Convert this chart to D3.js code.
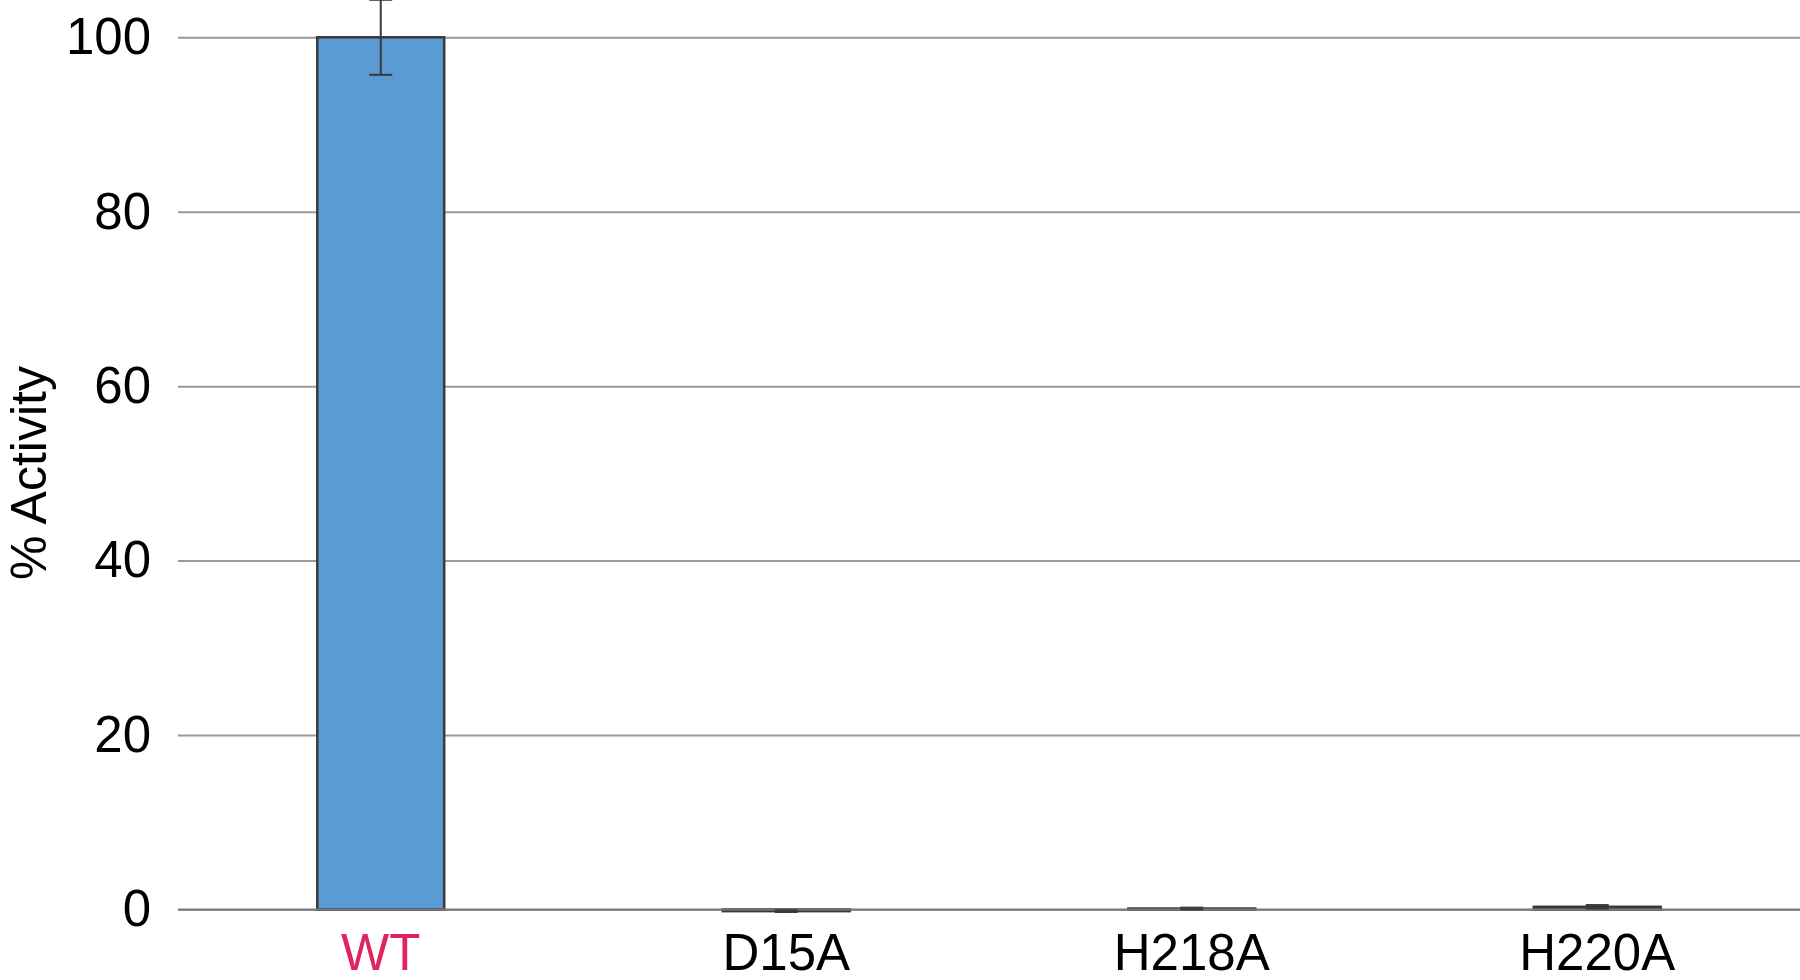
<!DOCTYPE html>
<html>
<head>
<meta charset="utf-8">
<script src="https://cdn.jsdelivr.net/npm/d3@7"></script>
<style>
  html, body { margin: 0; padding: 0; background: #fff; }
  svg { display: block; }
  text { font-family: "Liberation Sans", Arial, sans-serif; }
</style>
</head>
<body>
<svg id="chart" width="1800" height="980"></svg>
<script>
const categories = ["WT", "D15A", "H218A", "H220A"];
const values = [100, -0.2, 0.1, 0.3];
const errors = [4.3, 0.1, 0.1, 0.2];
const labelColors = ["#E0245E", "#000000", "#000000", "#000000"];
const yTicks = [0, 20, 40, 60, 80, 100];
const yTitle = "% Activity";

const svg = d3.select("#chart");
const plotLeft = 178, plotRight = 1800, yZero = 909.4, yTop = 37.3;

const x = d3.scaleBand().domain(categories).range([plotLeft, plotRight])
  .paddingInner(0.687).paddingOuter(0.3435);
const y = d3.scaleLinear().domain([0, 100]).range([yZero, yTop]);

// gridlines
const yAxis = d3.axisLeft(y).tickValues(yTicks).tickSize(-(plotRight - plotLeft)).tickPadding(27).tickFormat(d3.format("d"));
const gAxis = svg.append("g").attr("transform", `translate(${plotLeft},0)`).call(yAxis);
gAxis.select(".domain").remove();
gAxis.selectAll(".tick line").attr("stroke", "#9a9a9a").attr("stroke-width", 2);
gAxis.selectAll(".tick text").attr("font-size", 51).attr("fill", "#000")
  .attr("font-family", "Liberation Sans, Arial, sans-serif");

// bars
svg.append("g").selectAll("rect").data(categories).join("rect")
  .attr("x", d => x(d))
  .attr("width", x.bandwidth())
  .attr("y", (d, i) => y(Math.max(0, values[i])))
  .attr("height", (d, i) => Math.abs(y(values[i]) - y(0)))
  .attr("fill", "#5B9BD5")
  .attr("stroke", "#3a3a3a")
  .attr("stroke-width", 2.5);

// zero line
svg.append("line").attr("x1", plotLeft).attr("x2", plotRight)
  .attr("y1", y(0)).attr("y2", y(0)).attr("stroke", "#7a7a7a").attr("stroke-width", 2);

// error bars
const eb = svg.append("g").attr("stroke", "#3a3a3a").attr("stroke-width", 2);
categories.forEach((c, i) => {
  const cx = x(c) + x.bandwidth() / 2;
  const lo = y(values[i] - errors[i]), hi = y(values[i] + errors[i]);
  eb.append("line").attr("x1", cx).attr("x2", cx).attr("y1", lo).attr("y2", hi);
  eb.append("line").attr("x1", cx - 11.5).attr("x2", cx + 11.5).attr("y1", lo).attr("y2", lo);
  eb.append("line").attr("x1", cx - 11.5).attr("x2", cx + 11.5).attr("y1", hi).attr("y2", hi);
});

// x labels
svg.append("g").selectAll("text").data(categories).join("text")
  .attr("x", d => x(d) + x.bandwidth() / 2)
  .attr("y", 970)
  .attr("text-anchor", "middle")
  .attr("font-size", 51)
  .attr("fill", (d, i) => labelColors[i])
  .text(d => d);

// y title
svg.append("text")
  .attr("transform", `translate(46, 473) rotate(-90)`)
  .attr("text-anchor", "middle")
  .attr("font-size", 50)
  .attr("fill", "#000")
  .text(yTitle);
</script>
</body>
</html>
